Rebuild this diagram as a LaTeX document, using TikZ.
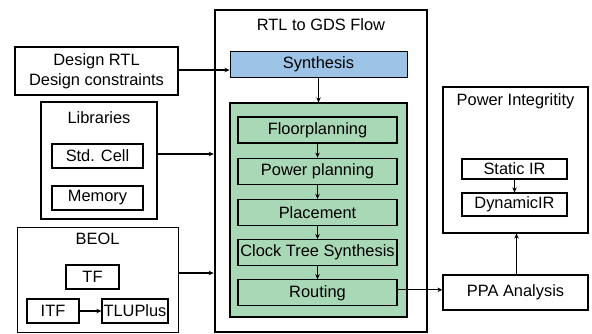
\documentclass[tikz,border=0pt]{standalone}
\usepackage{fontspec}
\setmainfont{Liberation Sans}
\usepackage{tikz}
\usetikzlibrary{arrows.meta, positioning, calc}
\definecolor{synthcolor}{RGB}{157,195,230}
\definecolor{flowcolor}{RGB}{169,216,182}

\begin{document}
\begin{tikzpicture}[
    x=1pt, y=-1pt,
    font=\fontsize{16.4}{20}\selectfont,
    frame/.style={rectangle, draw, inner sep=0pt, align=center},
    box/.style={frame, line width=1.2pt, minimum height=26pt},
    stepbox/.style={box, minimum width=159pt, minimum height=26pt},
    smallbox/.style={frame, line width=1.1pt, minimum height=24pt},
    title/.style={inner sep=0pt},
    arrow/.style={-{Stealth[length=5pt, width=4.5pt]}, line width=1.1pt},
]
\useasboundingbox (0,0) rectangle (592,333);

% inputs on the left
\node[frame, line width=2pt, minimum width=163pt, minimum height=48pt] (design) at (96.5,71) {Design RTL\\Design constraints};
\node[frame, line width=2.6pt, minimum width=116pt, minimum height=117pt] (libs) at (99,160.5) {};
\node[title] (libstitle) at (99,118) {Libraries};
\node[smallbox, minimum width=91pt] (stdcell) at (97.5,156) {Std. Cell};
\node[smallbox, minimum width=91pt] (memory) at (97.5,198) {Memory};

\node[frame, line width=0.9pt, minimum width=161pt, minimum height=105pt] (beol) at (97.5,279.5) {};
\node[title] (beoltitle) at (97.5,239) {BEOL};
\node[smallbox, minimum width=53pt] (tf) at (92.5,277) {TF};
\node[smallbox, minimum width=52pt] (itf) at (53,311) {ITF};
\node[smallbox, minimum width=66pt] (tlu) at (135,311) {TLUPlus};

% RTL to GDS flow
\node[frame, line width=2.6pt, minimum width=212pt, minimum height=322pt] (rtl) at (321,171) {};
\node[title] (rtltitle) at (321,25) {RTL to GDS Flow};
\node[box, line width=0.9pt, fill=synthcolor, minimum width=177pt] (synth) at (318.5,64) {Synthesis};
\node[frame, line width=1.2pt, fill=flowcolor, minimum width=177pt, minimum height=214pt] (pnr) at (318.5,210) {};
\node[stepbox] (floor) at (317.5,130) {Floorplanning};
\node[stepbox, below=14pt of floor] (power) {Power planning};
\node[stepbox, below=14pt of power] (place) {Placement};
\node[stepbox, below=13pt of place] (cts) {Clock Tree Synthesis};
\node[stepbox, below=13pt of cts] (route) {Routing};

% analysis on the right
\node[frame, line width=1.2pt, minimum width=145pt, minimum height=146pt] (pi) at (515.5,160) {};
\node[title] (pititle) at (515.5,101) {Power Integritity};
\node[frame, line width=1.2pt, minimum width=105pt, minimum height=20pt] (static) at (514.5,169) {Static IR};
\node[frame, line width=1.2pt, minimum width=105pt, minimum height=23pt] (dynamic) at (514.5,204.5) {DynamicIR};
\node[frame, line width=1.2pt, minimum width=145pt, minimum height=35pt] (ppa) at (515.5,292.5) {PPA Analysis};

\draw[arrow] ([yshift=1pt]design.east) -- ([yshift=1pt]design.east -| synth.west);
\draw[arrow] ([yshift=6.5pt]libs.east) -- ([yshift=6.5pt]libs.east -| rtl.west);
\draw[arrow] ([yshift=6.5pt]beol.east) -- ([yshift=6.5pt]beol.east -| rtl.west);
\draw[arrow] (itf) -- (tlu);
\draw[arrow] (synth) -- (pnr);
\draw[arrow] (floor) -- (power);
\draw[arrow] (power) -- (place);
\draw[arrow] (place) -- (cts);
\draw[arrow] (cts) -- (route);
\draw[arrow] ([yshift=3pt]route.east) -- ([yshift=3pt]route.east -| ppa.west);
\draw[arrow] (static) -- (dynamic);
\draw[arrow] ([xshift=1pt]ppa.north) -- ([xshift=1pt]ppa.north |- pi.south);

\end{tikzpicture}
\end{document}
